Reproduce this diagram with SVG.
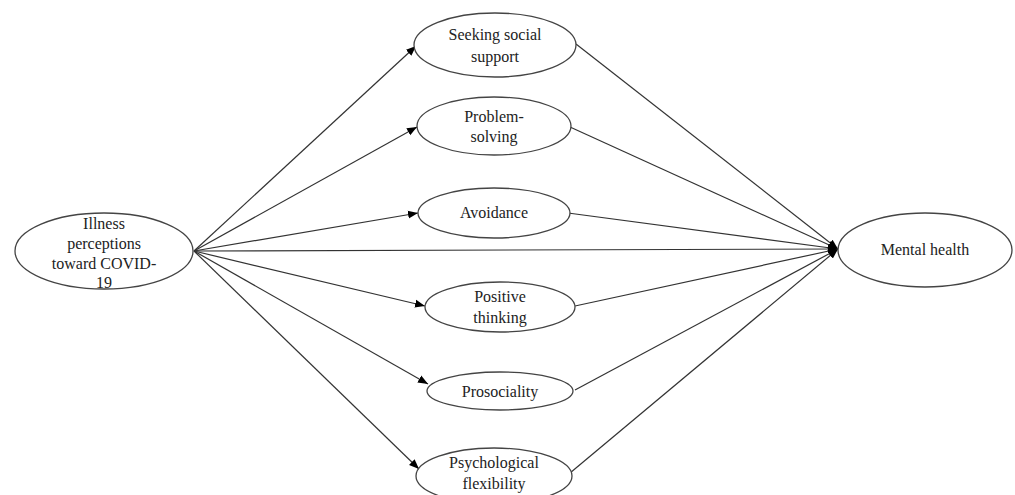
<svg xmlns="http://www.w3.org/2000/svg" width="1015" height="495" viewBox="0 0 1015 495">
<style>
.n{fill:#fff;stroke:#444;stroke-width:1.3}
.t{font-family:"Liberation Serif",serif;font-size:16px;fill:#222;text-anchor:middle}
.c{stroke:#333;stroke-width:1.2;fill:none;marker-end:url(#ah)}
</style>
<defs>
<marker id="ah" viewBox="0 0 10 10" refX="10" refY="5" markerWidth="10" markerHeight="10" markerUnits="userSpaceOnUse" orient="auto">
<path d="M0,1 L10,5 L0,9 z" fill="#000"/>
</marker>
</defs>
<rect width="1015" height="495" fill="#fff"/>
<g id="connectors">
<line class="c" x1="194" y1="251" x2="416" y2="46"/>
<line class="c" x1="194" y1="251" x2="417" y2="127"/>
<line class="c" x1="194" y1="251" x2="418" y2="213"/>
<line class="c" x1="194" y1="251" x2="425" y2="306"/>
<line class="c" x1="194" y1="251" x2="428" y2="384"/>
<line class="c" x1="194" y1="251" x2="419" y2="469"/>
<line class="c" x1="194" y1="251" x2="838" y2="249"/>
<line class="c" x1="576" y1="44" x2="838" y2="249"/>
<line class="c" x1="570" y1="127" x2="838" y2="249"/>
<line class="c" x1="568" y1="213" x2="838" y2="249"/>
<line class="c" x1="575" y1="306" x2="838" y2="249"/>
<line class="c" x1="575" y1="390" x2="838" y2="249"/>
<line class="c" x1="570" y1="473" x2="838" y2="249"/>
</g>
<g id="illness">
<ellipse class="n" cx="104" cy="251" rx="89" ry="38"/>
<text class="t" x="104" y="229">Illness</text>
<text class="t" x="104" y="249">perceptions</text>
<text class="t" x="104" y="269">toward COVID-</text>
<text class="t" x="104" y="288">19</text>
</g>
<g id="seeking">
<ellipse class="n" cx="495" cy="45" rx="81" ry="32"/>
<text class="t" x="495" y="40">Seeking social</text>
<text class="t" x="495" y="62">support</text>
</g>
<g id="problem">
<ellipse class="n" cx="494" cy="126" rx="77" ry="29"/>
<text class="t" x="494" y="122">Problem-</text>
<text class="t" x="494" y="142">solving</text>
</g>
<g id="avoidance">
<ellipse class="n" cx="494" cy="213" rx="76" ry="25"/>
<text class="t" x="494" y="218">Avoidance</text>
</g>
<g id="positive">
<ellipse class="n" cx="500" cy="307" rx="75" ry="25"/>
<text class="t" x="500" y="302">Positive</text>
<text class="t" x="500" y="323">thinking</text>
</g>
<g id="prosociality">
<ellipse class="n" cx="500" cy="391" rx="73" ry="19"/>
<text class="t" x="500" y="397">Prosociality</text>
</g>
<g id="psych">
<ellipse class="n" cx="494" cy="476" rx="78" ry="28"/>
<text class="t" x="494" y="468">Psychological</text>
<text class="t" x="494" y="489">flexibility</text>
</g>
<g id="mental">
<ellipse class="n" cx="925" cy="250" rx="87" ry="37"/>
<text class="t" x="925" y="255">Mental health</text>
</g>
</svg>
